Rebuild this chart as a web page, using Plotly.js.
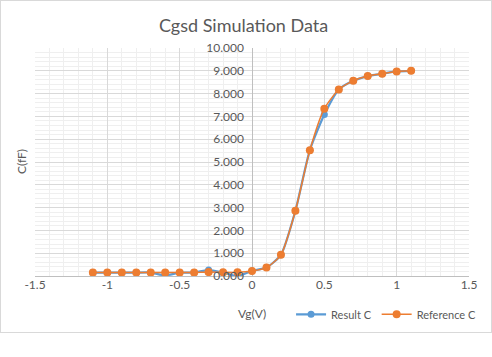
<!DOCTYPE html>
<html>
<head>
<meta charset="utf-8">
<script src="https://cdn.plot.ly/plotly-3.0.1.min.js"></script>
<style>
html,body{margin:0;padding:0;background:#fff;}
#wrap{position:relative;width:492px;height:357px;}
#chart{width:492px;height:357px;}
#frame{position:absolute;left:0;top:0;width:490px;height:331px;border:1px solid #d9d9d9;pointer-events:none;}
</style>
</head>
<body>
<div id="wrap"><div id="chart"></div><div id="frame"></div></div>
<script>
const vg = [-1.1,-1.0,-0.9,-0.8,-0.7,-0.6,-0.5,-0.4,-0.3,-0.2,-0.1,0.0,0.1,0.2,0.3,0.4,0.5,0.6,0.7,0.8,0.9,1.0,1.1];
const resultC = [0.15,0.15,0.15,0.15,0.15,0.03,0.15,0.15,0.26,0.15,0.0,0.22,0.37,0.93,2.86,5.52,7.08,8.18,8.56,8.77,8.87,8.97,9.0];
const referenceC = [0.15,0.15,0.15,0.15,0.15,0.15,0.15,0.15,0.17,0.16,0.16,0.22,0.37,0.93,2.86,5.52,7.34,8.18,8.56,8.77,8.87,8.97,9.0];
const xTicks = [-1.5,-1,-0.5,0,0.5,1,1.5];
const yTicks = [0,1,2,3,4,5,6,7,8,9,10];

const txt = '#595959';
const traces = [
  {x: vg, y: resultC, name: 'Result C', type: 'scatter', mode: 'lines+markers',
   line: {color: '#5B9BD5', width: 2.25, shape: 'spline', smoothing: 0.6},
   marker: {color: '#5B9BD5', size: 7}},
  {x: vg, y: referenceC, name: 'Reference C', type: 'scatter', mode: 'lines+markers',
   line: {color: '#ED7D31', width: 1.5, shape: 'spline', smoothing: 0.6},
   marker: {color: '#ED7D31', size: 8}}
];
const layout = {
  width: 492, height: 357,
  margin: {l: 35, r: 23, t: 48, b: 81, autoexpand: false},
  paper_bgcolor: '#fff', plot_bgcolor: '#fff',
  font: {family: 'Lato, "Open Sans", sans-serif', color: txt, size: 12},
  showlegend: true,
  legend: {orientation: 'h', x: 0.59, y: -0.168, xanchor: 'left', yanchor: 'middle',
           font: {size: 11, color: txt}, bgcolor: 'rgba(0,0,0,0)',
           itemwidth: 30, tracegroupgap: 0},
  xaxis: {range: [-1.5, 1.5], tickvals: xTicks, ticktext: xTicks.map(String),
          showgrid: true, gridcolor: '#d9d9d9', gridwidth: 1,
          minor: {dtick: 0.1, showgrid: true, gridcolor: '#efefef', gridwidth: 1},
          zeroline: true, zerolinecolor: '#bfbfbf', zerolinewidth: 1,
          showline: false, ticks: '', tickfont: {size: 12, color: txt}, fixedrange: true, automargin: false},
  yaxis: {range: [0, 10], tickvals: yTicks, tickformat: '.3f',
          anchor: 'free', position: 0.5,
          showgrid: true, gridcolor: '#d9d9d9', gridwidth: 1,
          minor: {dtick: 0.2, showgrid: true, gridcolor: '#efefef', gridwidth: 1},
          zeroline: true, zerolinecolor: '#bfbfbf', zerolinewidth: 1,
          showline: false, ticks: '', ticklabelstandoff: 8, automargin: false,
          tickfont: {size: 12, color: txt}, fixedrange: true},
  annotations: [
    {text: 'Cgsd Simulation Data', xref: 'paper', yref: 'paper', x: 0.48, y: 1.1,
     xanchor: 'center', yanchor: 'middle', showarrow: false, font: {size: 18, color: txt}},
    {text: 'Vg(V)', xref: 'paper', yref: 'paper', x: 0.5, y: -0.163,
     xanchor: 'center', yanchor: 'middle', showarrow: false, font: {size: 12, color: txt}},
    {text: 'C(fF)', xref: 'paper', yref: 'paper', x: -0.032, y: 0.5, textangle: -90,
     xanchor: 'center', yanchor: 'middle', showarrow: false, font: {size: 12, color: txt}}
  ]
};
Plotly.newPlot('chart', traces, layout, {staticPlot: true, displayModeBar: false});
</script>
</body>
</html>
